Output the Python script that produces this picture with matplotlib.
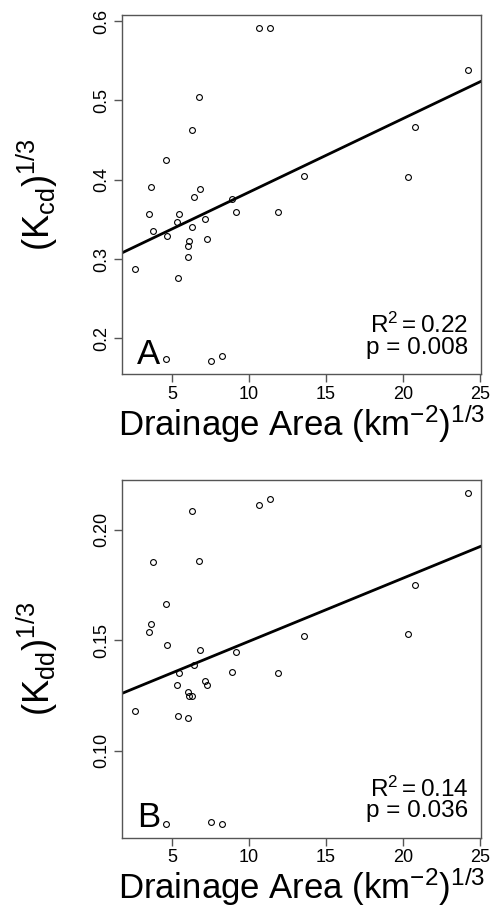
import numpy as np
import matplotlib
matplotlib.use("Agg")
import matplotlib.pyplot as plt

plt.rcParams["font.family"] = ["Liberation Sans", "DejaVu Sans"]
plt.rcParams["mathtext.fontset"] = "custom"
plt.rcParams["mathtext.rm"] = "Liberation Sans"
plt.rcParams["mathtext.it"] = "Liberation Sans:italic"
plt.rcParams["mathtext.bf"] = "Liberation Sans:bold"

# cube root of drainage area, one value per site
area = [10.65, 11.34, 24.18, 6.77, 6.31, 20.78, 4.61, 13.56, 20.30, 3.64,
        6.81, 6.42, 8.90, 3.49, 5.45, 9.16, 11.85, 5.32, 7.16, 3.77,
        6.33, 4.70, 7.27, 6.12, 6.06, 6.06, 2.63, 5.41, 4.61, 7.54, 8.23]
# (K_cd)^(1/3)
kcd = [0.591, 0.591, 0.538, 0.504, 0.463, 0.466, 0.425, 0.405, 0.404, 0.391,
       0.388, 0.378, 0.376, 0.357, 0.357, 0.360, 0.360, 0.347, 0.350, 0.335,
       0.341, 0.329, 0.325, 0.323, 0.316, 0.303, 0.287, 0.276, 0.174, 0.172,
       0.178]
# (K_dd)^(1/3)
kdd = [0.2113, 0.2138, 0.2165, 0.1859, 0.2083, 0.1751, 0.1664, 0.1521, 0.1527,
       0.1574, 0.1458, 0.1387, 0.1357, 0.1538, 0.1351, 0.1446, 0.1353, 0.1297,
       0.1315, 0.1856, 0.1246, 0.1477, 0.1300, 0.1246, 0.1266, 0.1150, 0.1180,
       0.1159, 0.0668, 0.0680, 0.0668]

panels = [
    ("A", kcd, r"$(\mathrm{K_{cd}})^{1/3}$", [0.2, 0.3, 0.4, 0.5, 0.6],
     ["0.2", "0.3", "0.4", "0.5", "0.6"], "0.22", "0.008"),
    ("B", kdd, r"$(\mathrm{K_{dd}})^{1/3}$", [0.10, 0.15, 0.20],
     ["0.10", "0.15", "0.20"], "0.14", "0.036"),
]
x_ticks = [5, 10, 15, 20, 25]

W, H = 504, 908
fig = plt.figure(figsize=(W / 100, H / 100), dpi=100)
boxes = [(122, 15, 481, 374), (122, 480, 481, 837.5)]
frame = "#555555"

x = np.array(area)
for (tag, yv, ylab, yt, ytl, r2, pval), (l, t, r, b) in zip(panels, boxes):
    ax = fig.add_axes([l / W, 1 - b / H, (r - l) / W, (b - t) / H])
    y = np.array(yv)

    # R-style 4% padding around the data
    xpad = 0.04 * (x.max() - x.min())
    ypad = 0.04 * (y.max() - y.min())
    ax.set_xlim(x.min() - xpad, x.max() + xpad)
    ax.set_ylim(y.min() - ypad, y.max() + ypad)

    ax.plot(x, y, "o", ms=4.2, mfc="none", mec="black", mew=0.8)

    slope, icpt = np.polyfit(x, y, 1)
    xx = np.array(ax.get_xlim())
    ax.plot(xx, icpt + slope * xx, color="black", lw=2)

    ax.set_xticks(x_ticks)
    ax.set_xticklabels([str(v) for v in x_ticks], fontsize=13)
    ax.set_yticks(yt)
    ax.set_yticklabels(ytl, fontsize=13, rotation=90, va="center")
    ax.tick_params(length=6, width=1, color=frame, pad=2.5)
    for sp in ax.spines.values():
        sp.set_color(frame)
        sp.set_linewidth(1.0)

    ax.text(0.042, 0.028, tag, transform=ax.transAxes, fontsize=25,
            ha="left", va="baseline")
    ax.text(0.964, 0.114, r"$\mathrm{R}^2 = $" + r2, transform=ax.transAxes,
            fontsize=17.5, ha="right", va="baseline")
    ax.text(0.964, 0.056, "p = " + pval, transform=ax.transAxes,
            fontsize=17.5, ha="right", va="baseline")

    h = b - t
    ax.text(0.5, -62 / h, r"Drainage Area $(\mathrm{km}^{-2})^{1/3}$",
            transform=ax.transAxes, fontsize=25, ha="center", va="baseline")
    ax.text((37.5 - l) / (r - l), 0.5, ylab, transform=ax.transAxes,
            fontsize=26, rotation=90, ha="center", va="center")

fig.savefig("out.png", dpi=100)
